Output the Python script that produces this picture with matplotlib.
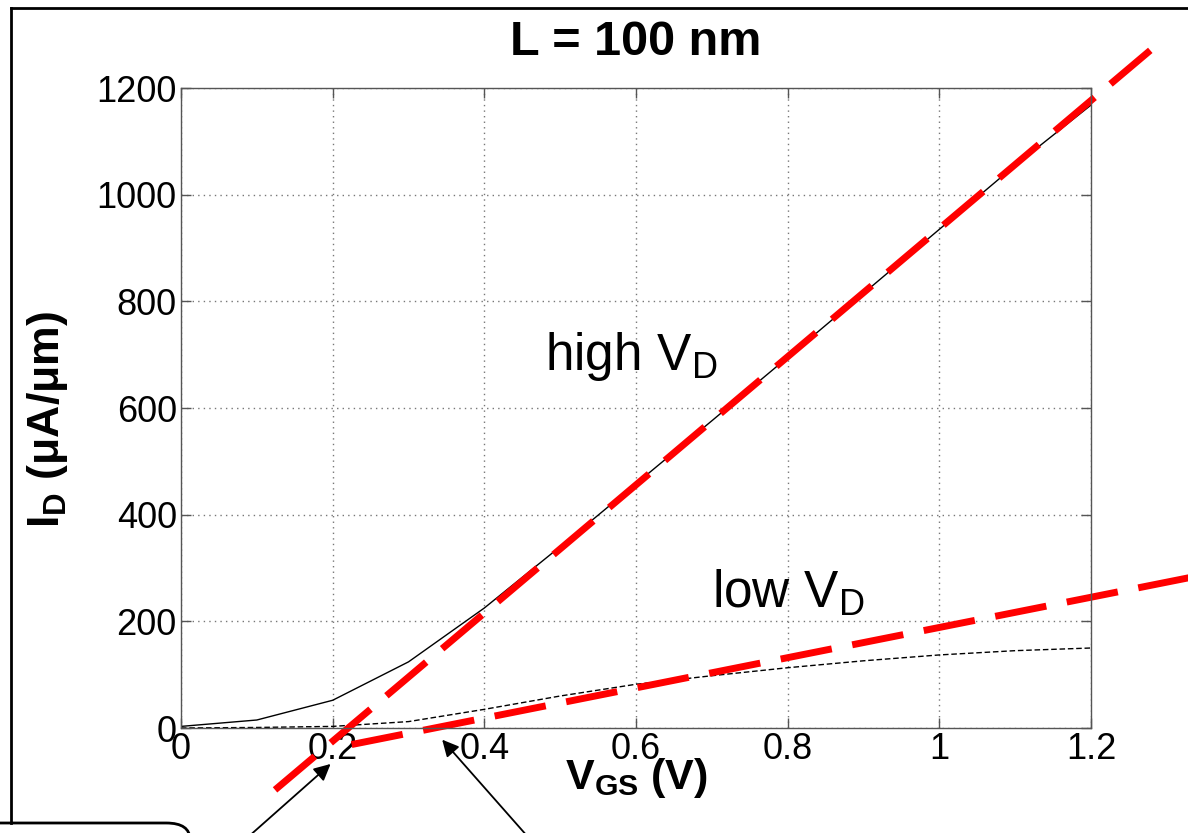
import numpy as np
import matplotlib.pyplot as plt
from matplotlib.patches import FancyBboxPatch
from matplotlib.lines import Line2D

plt.rcParams['font.family'] = ['Liberation Sans', 'DejaVu Sans']
plt.rcParams['mathtext.fontset'] = 'custom'
plt.rcParams['mathtext.rm'] = 'Liberation Sans'
plt.rcParams['mathtext.it'] = 'Liberation Sans:italic'
plt.rcParams['mathtext.bf'] = 'Liberation Sans:bold'

# simulated I_D-V_GS, L = 100 nm
vgs = [0, 0.1, 0.2, 0.3, 0.4, 0.5, 0.6, 0.7, 0.8, 0.9, 1.0, 1.1, 1.2]
idHigh = [3, 15, 52, 124, 225, 340, 458, 576, 695, 815, 935, 1055, 1168]
idLow = [0, 1, 3, 12, 35, 60, 82, 98, 113, 126, 137, 145, 150]

# linear extrapolations (red dashed)
fitHighX = [0.124, 1.291]
fitHighY = [-116, 1286]
fitLowX = [0.225, 1.33]
fitLowY = [-31, 282]

xTicks = [0, 0.2, 0.4, 0.6, 0.8, 1.0, 1.2]
xTickLabels = ['0', '0.2', '0.4', '0.6', '0.8', '1', '1.2']
yTicks = [0, 200, 400, 600, 800, 1000, 1200]

W, H = 1188, 833
fig = plt.figure(figsize=(W / 100, H / 100), dpi=100)
ax = fig.add_axes([181 / W, 1 - 728 / H, (1091 - 181) / W, (728 - 88) / H])

ax.plot(vgs, idHigh, color='black', linewidth=1.0)
ax.plot(vgs, idLow, color='black', linewidth=1.0, dashes=(4, 2))
ax.plot(fitHighX, fitHighY, color='#ff0000', linewidth=5, dashes=(7.5, 3), clip_on=False, solid_capstyle='butt')
ax.plot(fitLowX, fitLowY, color='#ff0000', linewidth=5, dashes=(7.5, 3), clip_on=False, solid_capstyle='butt')

ax.set_xlim(0, 1.2)
ax.set_ylim(0, 1200)
ax.set_xticks(xTicks)
ax.set_xticklabels(xTickLabels)
ax.set_yticks(yTicks)
ax.tick_params(direction='in', length=7, width=1, color='#555555', labelsize=26, pad=3,
               top=True, right=True)
for s in ax.spines.values():
    s.set_color('#555555')
    s.set_linewidth(1.0)

ax.grid(True, color='#777777', linestyle=(0, (1, 3)), linewidth=1)

ax.text(0.48, 671, r'high V$_\mathrm{D}$', fontsize=37, ha='left', va='baseline')
ax.text(0.70, 225, r'low V$_\mathrm{D}$', fontsize=37, ha='left', va='baseline')

fig.text(636 / W, 1 - 55 / H, 'L = 100 nm', fontsize=35, fontweight='bold', ha='center', va='baseline')
fig.text(636 / W, 1 - 789 / H, r'$\mathbf{V_{GS}}$ (V)', fontsize=31, fontweight='bold', ha='center', va='baseline')
fig.text(47 / W, 1 - 420 / H, r'$\mathbf{I_D}$ (μA/μm)', fontsize=32, fontweight='bold', ha='center', va='center',
         rotation=90)

# arrows to the intercepts
ax.annotate('', xy=(0.2, -64), xytext=(0.088, -205), xycoords='data', textcoords='data',
            arrowprops=dict(arrowstyle='-|>', color='black', lw=1.3, mutation_scale=25),
            annotation_clip=False)
ax.annotate('', xy=(0.342, -18), xytext=(0.458, -205), xycoords='data', textcoords='data',
            arrowprops=dict(arrowstyle='-|>', color='black', lw=1.3, mutation_scale=25),
            annotation_clip=False)

# slide frame
fig.add_artist(Line2D([11 / W, 1.0], [1 - 8 / H, 1 - 8 / H], transform=fig.transFigure, color='black', lw=2))
fig.add_artist(Line2D([11 / W, 11 / W], [1 - 8 / H, 1 - 823 / H], transform=fig.transFigure, color='black', lw=2))
fig.add_artist(FancyBboxPatch((-40 / W, -40 / H), 230 / W, (40 + 10) / H,
                              boxstyle='round,pad=0,rounding_size=0.02', transform=fig.transFigure,
                              facecolor='white', edgecolor='black', lw=2, clip_on=False))

plt.savefig('out.png', dpi=100)
